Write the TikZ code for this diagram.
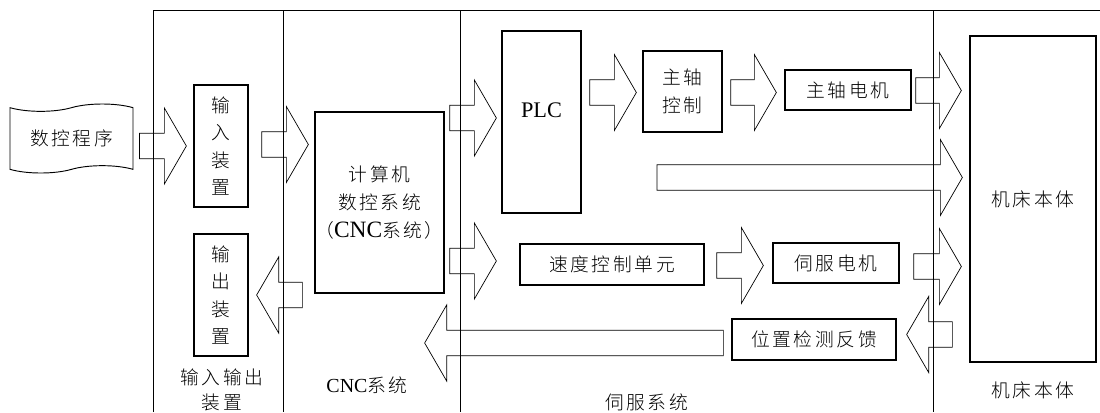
\documentclass[tikz,border=0pt]{standalone}
\usepackage{fontspec}
\setmainfont{Liberation Serif}
\IfFontExistsTF{Noto Sans CJK SC Light}
  {\newfontfamily\cjk[LetterSpace=14]{Noto Sans CJK SC Light}}
  {\newfontfamily\cjk[LetterSpace=14]{Noto Sans CJK SC}}
\newcommand\latin[2]{{\rmfamily\fontsize{#1}{23.5pt}\selectfont #2}}
\usetikzlibrary{shapes.symbols,calc,positioning}

\begin{document}
\begin{tikzpicture}[x=0.03cm,y=-0.03cm,
  box/.style={draw,line width=1.1pt,inner sep=0pt,align=center,
    font=\cjk\fontsize{16pt}{23.5pt}\selectfont},
  frame/.style={line width=0.8pt},
  fat/.style={line width=0.6pt,to path={
    let \p1=(\tikztostart),\p2=(\tikztotarget),
        \p3=({sign(\x2-\x1)*0.66cm},0pt) in
    (\x1,{\y1+0.38cm}) -- ({\x2-\x3},{\y1+0.38cm}) -- ({\x2-\x3},{\y1+1.14cm})
    -- (\x2,\y1) -- ({\x2-\x3},{\y1-1.14cm}) -- ({\x2-\x3},{\y1-0.38cm})
    -- (\x1,{\y1-0.38cm}) -- cycle}},
  caption/.style={font=\cjk\fontsize{16pt}{22pt}\selectfont,align=center},
]
  \useasboundingbox (0,0) rectangle (1100,412);

  % frame of the four parts
  \draw[frame] (153,412) |- (1100,10);
  \foreach \x in {283,460,933}
    \draw[frame] (\x,10) -- (\x,412);

  % blocks
  \node[tape,draw,line width=0.8pt,minimum width=3.69cm,minimum height=2.07cm,
    tape bend height=0.22cm,font=\cjk\fontsize{16pt}{23.5pt}\selectfont]
    (prog) at (71.5,138.5) {数控程序};
  \node[box,minimum width=1.62cm,minimum height=3.66cm] (inbox) at (221,146)
    {输\\入\\装\\置};
  \node[box,minimum width=1.62cm,minimum height=3.66cm] (outbox) at (221,295)
    {输\\出\\装\\置};
  \node[box,minimum width=3.87cm,minimum height=5.43cm] (cnc) at (379.5,202.5)
    {计算机\\数控系统\\（\latin{20pt}{CNC}系统）};
  \node[box,minimum width=2.37cm,minimum height=5.46cm] (plc) at (541.5,122) {};
  \node[font=\rmfamily\fontsize{19pt}{23pt}\selectfont] (plctext)
    at ([yshift=0.36cm]plc.center) {PLC};
  \node[box,minimum width=2.37cm,minimum height=2.43cm] (spctl) at (682.5,91.5)
    {主轴\\控制};
  \node[box,minimum width=3.78cm,minimum height=1.2cm] (spmot) at (848,90)
    {主轴电机};
  \node[box,minimum width=3.78cm,minimum height=9.78cm] (bed) at (1033,199)
    {机床本体};
  \node[box,minimum width=5.52cm,minimum height=1.23cm] (speed) at (612,264.5)
    {速度控制单元};
  \node[box,minimum width=3.78cm,minimum height=1.2cm] (servo) at (836,263)
    {伺服电机};
  \node[box,minimum width=4.92cm,minimum height=1.23cm] (pos) at (814,339.5)
    {位置检测反馈};
  \coordinate (free) at (657,177.5);

  % part names
  \node[caption] (lblio) at (222,390) {输入输出\\装置};
  \node[caption] (lblcnc) at (367,385) {\latin{17pt}{CNC}系统};
  \node[caption] (lblservo) at (646.5,402) {伺服系统};
  \node[caption] (lblbed) at (1033,390) {机床本体};

  % block arrows
  \draw[fat] ($(prog.east |- inbox)+(6,0)$) to ($(inbox.west)+(-7,0)$);
  \draw[fat] ($(inbox.east)+(13,-1.5)$) to ($(cnc.west)+(-6,0)$);
  \draw[fat] ($(cnc.west |- outbox)+(-12,0)$) to ($(outbox.east)+(8,0)$);
  \draw[fat] ($(cnc.east |- plc)+(5,-4)$) to ($(plc.west)+(-5,0)$);
  \draw[fat] ($(plc.east |- spctl)+(8,1)$) to ($(spctl.west)+(-6,0)$);
  \draw[fat] ($(spctl.east)+(8,1)$) to ($(spmot.west)+(-8,0)$);
  \draw[fat] ($(spmot.east)+(4,0.5)$) to ($(bed.west)+(-8,0)$);
  \draw[fat] (free) to ($(bed.west)+(-7,0)$);
  \draw[fat] ($(cnc.east |- speed)+(5,-3.5)$) to ($(speed.west)+(-23,0)$);
  \draw[fat] ($(speed.east)+(12,1)$) to ($(servo.west)+(-9,0)$);
  \draw[fat] ($(servo.east)+(14,3.5)$) to ($(bed.west)+(-8,0)$);
  \draw[fat] ($(bed.west |- pos)+(-17,-5)$) to ($(pos.east)+(10,0)$);
  \draw[fat] ($(pos.west)+(-8,3.5)$) to ($(cnc.east)+(-20,0)$);
\end{tikzpicture}
\end{document}
